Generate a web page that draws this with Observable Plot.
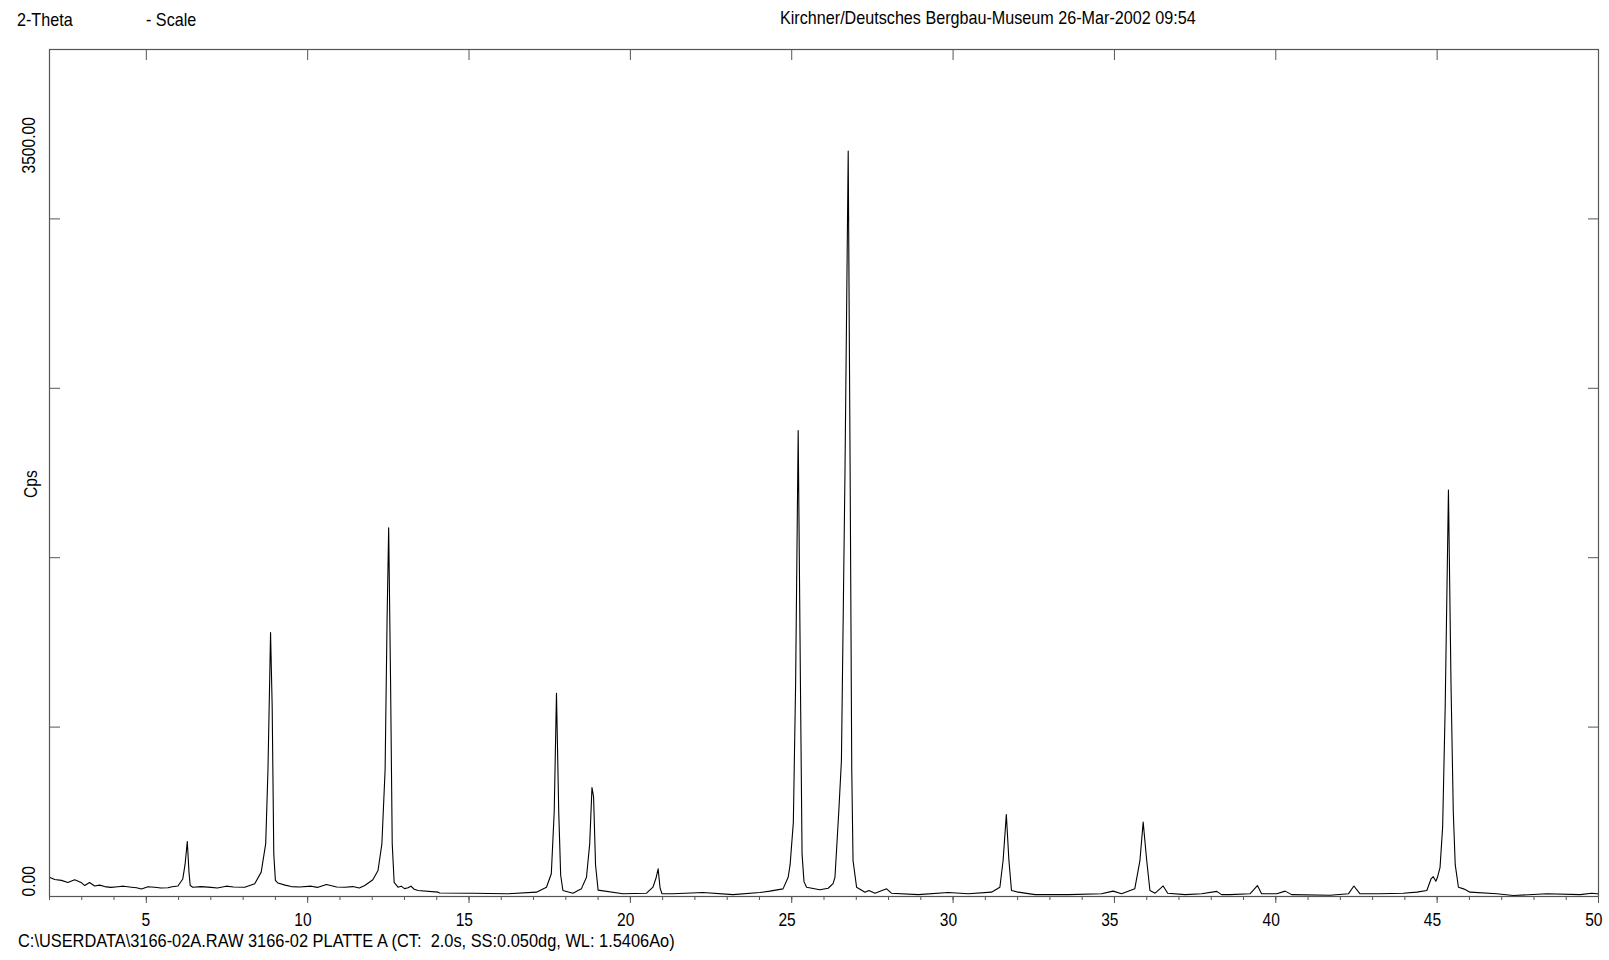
<!DOCTYPE html>
<html><head><meta charset="utf-8">
<script src="https://cdn.jsdelivr.net/npm/d3@7"></script>
<script src="https://cdn.jsdelivr.net/npm/@observablehq/plot@0.6"></script>
<style>
body{margin:0;background:#fff;}
#wrap{position:relative;width:1609px;height:960px;overflow:hidden;font-family:"Liberation Sans Narrow","Arial Narrow","Liberation Sans",Arial,sans-serif;color:#000}
#chart{position:absolute;left:0;top:0}
.t{position:absolute;font-size:19px;line-height:19px;white-space:pre;transform:scaleX(0.85);transform-origin:0 0}
</style></head><body>
<div id="wrap">
<div id="chart"></div>
<div class="t" style="left:17px;top:10px">2-Theta</div>
<div class="t" style="left:146px;top:10px">- Scale</div>
<div class="t" style="left:780px;top:8px">Kirchner/Deutsches Bergbau-Museum 26-Mar-2002 09:54</div>
<div class="t" style="left:18px;top:931px;transform:scaleX(0.862)">C:\USERDATA\3166-02A.RAW 3166-02 PLATTE A (CT:  2.0s, SS:0.050dg, WL: 1.5406Ao)</div>
</div>
<script>
// 2-Theta positions (degrees)
const theta = [
 2.00,2.16,2.37,2.57,2.78,2.98,3.09,3.24,3.40,3.55,3.71,3.90,4.12,4.30,4.54,4.70,4.85,5.05,5.26,5.45,5.67,5.80,5.98,
 6.13,6.20,6.27,6.32,6.36,6.44,6.70,7.01,7.20,7.48,7.70,8.05,8.36,8.56,8.70,8.77,8.82,8.85,8.90,8.95,9.00,9.08,9.30,
 9.49,9.75,10.11,10.30,10.58,10.90,11.15,11.40,11.60,11.77,12.02,12.18,12.30,12.40,12.46,12.51,12.57,12.62,12.68,
 12.80,12.90,13.00,13.11,13.20,13.30,13.42,14.04,14.09,15.12,16.16,17.09,17.40,17.55,17.64,17.71,17.78,17.84,17.91,
 18.22,18.48,18.64,18.74,18.81,18.86,18.92,19.00,19.77,20.50,20.70,20.80,20.86,20.92,20.98,21.32,22.25,23.18,24.01,
 24.32,24.73,24.89,24.95,25.05,25.12,25.20,25.27,25.32,25.38,25.46,25.87,26.13,26.28,26.34,26.46,26.54,26.65,26.75,
 26.81,26.86,26.90,27.01,27.27,27.39,27.58,27.94,28.09,28.92,29.85,30.47,31.19,31.45,31.55,31.65,31.73,31.81,32.02,
 32.54,33.57,34.60,34.96,35.22,35.63,35.79,35.89,36.00,36.10,36.26,36.41,36.51,36.65,37.19,37.70,38.17,38.32,38.58,
 39.20,39.43,39.56,40.03,40.29,40.49,41.68,42.25,42.42,42.61,43.23,43.95,44.37,44.68,44.81,44.88,44.96,45.01,45.09,
 45.17,45.25,45.35,45.43,45.50,45.56,45.66,45.82,46.02,46.85,47.36,48.40,49.43,49.79,49.95,50.00
];
// intensities (Cps) at those positions
const cps = [
 93,82,78,68,81,68,53,68,51,55,48,44,47,50,45,42,36,47,45,41,42,47,51,
 85,154,266,123,53,45,48,44,41,50,46,45,62,118,256,615,1025,1278,922,205,78,65,55,
 48,46,50,44,58,46,45,48,41,53,81,126,255,615,1333,1785,1025,256,68,
 45,50,38,42,50,35,29,21,17,16,13,21,45,110,410,984,410,103,29,
 16,37,93,256,527,482,154,31,13,16,45,92,134,41,13,13,19,9,19,
 26,37,93,154,359,1025,2256,1025,205,72,45,33,40,62,93,416,658,2050,3608,
 2050,615,174,45,21,29,16,37,16,9,19,13,21,45,174,397,174,29,21,
 9,9,13,26,13,37,174,360,174,29,16,37,51,16,9,13,25,9,9,
 13,53,13,13,26,9,6,13,51,13,13,16,21,29,85,96,74,93,141,
 335,922,1968,1025,410,154,45,37,21,13,5,13,9,16,13,13
];
const scan = theta.map((t, i) => ({theta: t, cps: cps[i]}));

const xMajorTicks = [5,10,15,20,25,30,35,40,45,50];
const xMinorTicks = [2,3,4,5,6,7,8,9,10,11,12,13,14,15,16,17,18,19,20,21,22,23,24,25,26,27,28,29,30,31,32,33,34,35,36,37,38,39,40,41,42,43,44,45,46,47,48,49,50];
const yDivisions = [820,1640,2460,3280];
const yLabels = [0, 3500];
const xDomain = [2, 50];
const yDomain = [0, 4100];

const font = '"Liberation Sans Narrow","Arial Narrow","Liberation Sans",Arial,sans-serif';
const fr = "#555";

const chart = Plot.plot({
  width: 1609,
  height: 960,
  marginLeft: 49,
  marginRight: 11,
  marginTop: 49,
  marginBottom: 64,
  style: {fontFamily: font, fontSize: "19px", background: "#fff", color: "#000"},
  x: {domain: xDomain},
  y: {domain: yDomain},
  marks: [
    Plot.line(scan, {x: "theta", y: "cps", stroke: "#000", strokeWidth: 1.1}),
    Plot.axisX(xMinorTicks, {anchor: "bottom", tickSize: 4, text: null, label: null, stroke: fr}),
    Plot.axisX(xMajorTicks, {anchor: "bottom", tickSize: 7, text: null, label: null, stroke: fr}),
    Plot.axisX(xMajorTicks, {anchor: "bottom", tickSize: 0, tickPadding: 16, label: null, fontSize: 19, textAnchor: "end", dx: 4, tickFormat: d => String(d)}),
    Plot.axisX(xMajorTicks, {anchor: "top", tickSize: -10, text: null, label: null, stroke: fr}),
    Plot.axisY(yDivisions, {anchor: "left", tickSize: -11, text: null, label: null, stroke: fr}),
    Plot.axisY(yDivisions, {anchor: "right", tickSize: -11, text: null, label: null, stroke: fr}),
    Plot.text(yLabels, {frameAnchor: "left", y: d => d, text: d => d.toFixed(2), rotate: -90, textAnchor: "start", dx: -21, fontSize: 19}),
    Plot.text(["Cps"], {frameAnchor: "left", text: d => d, rotate: -90, dx: -19, dy: 25, fontSize: 19}),
    Plot.frame({stroke: fr, strokeWidth: 1.2})
  ]
});
document.getElementById("chart").appendChild(chart);
// condense the SVG texts to match the narrow typeface of the original
chart.querySelectorAll("text").forEach(t => {
  const L = t.getComputedTextLength();
  if (L > 0) {
    t.setAttribute("textLength", (L * 0.82).toFixed(1));
    t.setAttribute("lengthAdjust", "spacingAndGlyphs");
  }
});
</script>
</body></html>
